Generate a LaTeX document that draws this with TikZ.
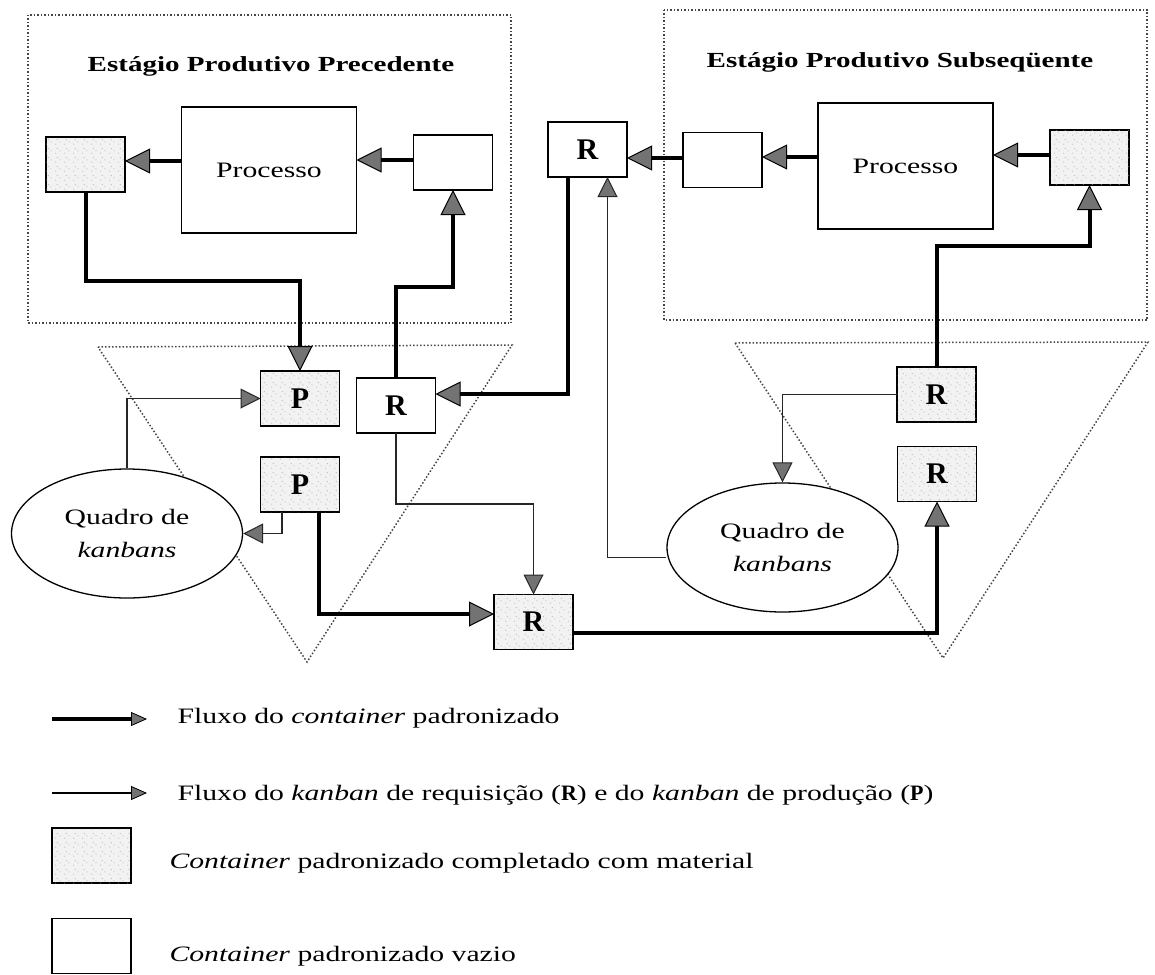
\documentclass[tikz,border=0pt]{standalone}
\usepackage{fontspec}
\setmainfont{Liberation Serif}[FakeStretch=1.35]
\newfontfamily\kfont{Liberation Serif}
\usetikzlibrary{arrows.meta,shapes.geometric,patterns}

% sparse dot texture for containers full of material
\pgfdeclarepatternformonly{sparsedots}{\pgfqpoint{0pt}{0pt}}{\pgfqpoint{9pt}{9pt}}{\pgfqpoint{9pt}{9pt}}{%
  \pgfpathcircle{\pgfqpoint{2pt}{2pt}}{0.55pt}%
  \pgfpathcircle{\pgfqpoint{6.5pt}{4.5pt}}{0.55pt}%
  \pgfpathcircle{\pgfqpoint{3.5pt}{7pt}}{0.55pt}%
  \pgfusepath{fill}}

\tikzset{
  box/.style={draw=black, line width=1.6pt, inner sep=0pt, outer sep=0pt,
    minimum width=79pt, minimum height=55pt, fill=white},
  fullbox/.style={box, fill=gray!10, postaction={pattern=sparsedots, pattern color=gray!75}},
  procbox/.style={box, minimum width=175pt, minimum height=126pt},
  stage/.style={draw=gray!55!black, line width=1.5pt, dash pattern=on 1.5pt off 2pt},
  board/.style={ellipse, draw=black, line width=1.3pt, inner sep=0pt, fill=white,
    minimum width=231pt, minimum height=129pt, align=center},
  cflow/.style={draw=black, line width=4pt,
    -{Triangle[length=25pt,width=25pt,line width=1pt,fill=black!55]}},
  kflow/.style={draw=black!85, line width=1.3pt,
    -{Triangle[length=20pt,width=20pt,line width=1pt,fill=black!55]}},
  cflowleg/.style={draw=black, line width=4pt,
    -{Triangle[length=16pt,width=14pt,line width=0.8pt,fill=black!55]}},
  kflowleg/.style={draw=black, line width=1.3pt,
    -{Triangle[length=16pt,width=14pt,line width=0.8pt,fill=black!55]}},
  card/.style={font=\fontsize{30}{30}\selectfont\kfont\bfseries},
  title/.style={font=\fontsize{21.5}{26}\selectfont\bfseries, anchor=base},
}

\begin{document}
\begin{tikzpicture}[x=1pt, y=-1pt, font=\fontsize{22}{33}\selectfont]
\useasboundingbox (0,0) rectangle (1155,974);

% stages and stock zones
\draw[stage] (28,15) rectangle (511,323);
\draw[stage] (664,10) rectangle (1147,320);
\draw[stage] (98,347) -- (512,345) -- (307,662) -- cycle;
\draw[stage] (735,343) -- (1148,342) -- (943,658) -- cycle;

\node[title] (t1) at (271,71) {Estágio Produtivo Precedente};
\node[title] (t2) at (900,67) {Estágio Produtivo Subseqüente};

% preceding stage
\node[fullbox] (f1) at (85.5,164.5) {};
\node[procbox] (pr1) at (269,170) {Processo};
\node[box] (e1) at (453,162.5) {};

% subsequent stage
\node[box, card] (rt) at (587.5,149.5) {R};
\node[box] (er) at (722.5,160) {};
\node[procbox] (pr2) at (905.5,166) {Processo};
\node[fullbox] (fr) at (1089.5,157.5) {};

% stock of the preceding stage
\node[fullbox, card] (p1) at (300,398.5) {P};
\node[box, card] (rm) at (396,405.5) {R};
\node[fullbox, card] (p2) at (300,484.5) {P};
\node[fullbox, card] (rf) at (533.5,622) {R};
\node[board] (el) at (127,533.5) {Quadro de\\\textit{kanbans}};

% stock of the subsequent stage
\node[fullbox, card] (rur) at (936.5,394.5) {R};
\node[fullbox, card] (rlr) at (937,474) {R};
\node[board] (elr) at (782.5,547.5) {Quadro de\\\textit{kanbans}};

% container flow
\draw[cflow] (pr1.west |- 0,161) -- (f1.east |- 0,161);
\draw[cflow] (e1.west |- 0,160) -- (pr1.east |- 0,160);
\draw[cflow] (f1.south) -- (f1.south |- 0,281) -| (p1.north);
\draw[cflow] (rm.north) -- (rm.north |- 0,287) -| (e1.south);
\draw[cflow] ([xshift=-19.5pt]rt.south) |- ([yshift=11.5pt]rm.east);
\draw[cflow] (er.west |- 0,158) -- (rt.east |- 0,158);
\draw[cflow] (pr2.west |- 0,157) -- (er.east |- 0,157);
\draw[cflow] (fr.west |- 0,155) -- (pr2.east |- 0,155);
\draw[cflow] (rur.north) -- (rur.north |- 0,246) -| (fr.south);
\draw[cflow] ([xshift=19pt]p2.south) |- ([yshift=8pt]rf.west);
\draw[cflow] ([yshift=-11pt]rf.east) -| (rlr.south);

% kanban flow
\draw[kflow] (el.north) |- (p1.west);
\draw[kflow] ([xshift=-18pt]p2.south) |- (el.east);
\draw[kflow] (rm.south) -- (rm.south |- 0,504) -| (rf.north);
\draw[kflow] ([yshift=-10pt]elr.west) -| ([xshift=20pt]rt.south);
\draw[kflow] (rur.west) -| (elr.north);

% legend
\coordinate (la1) at (52,719);
\coordinate (lb1) at (147,719);
\coordinate (la2) at (52,793);
\coordinate (lb2) at (147,793);
\draw[cflowleg] (la1) -- (lb1);
\draw[kflowleg] (la2) -- (lb2);
\node[fullbox] (lgf) at (91.5,855.5) {};
\node[box] (lge) at (91.5,946) {};
\node[anchor=base west] (lt1) at (174,723) {Fluxo do \textit{container} padronizado};
\node[anchor=base west] (lt2) at (174,800) {Fluxo do \textit{kanban} de requisição ({\kfont\bfseries R}) e do \textit{kanban} de produção ({\kfont\bfseries P})};
\node[anchor=base west] (lt3) at (166,868) {\textit{Container} padronizado completado com material};
\node[anchor=base west] (lt4) at (166,961) {\textit{Container} padronizado vazio};
\end{tikzpicture}
\end{document}
